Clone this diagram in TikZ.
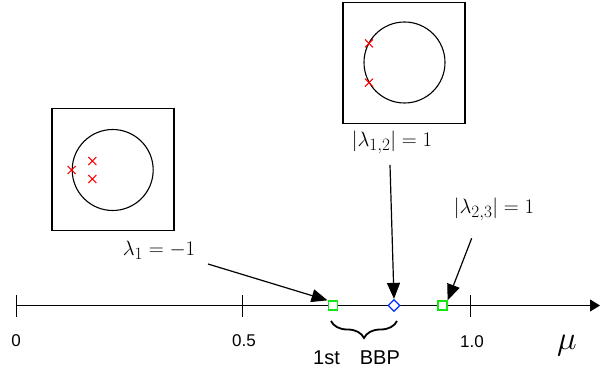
\documentclass[tikz,border=0pt]{standalone}
\usepackage{fontspec}
\setsansfont{Liberation Sans}
\usetikzlibrary{arrows.meta,decorations.pathreplacing,shapes.geometric}
\definecolor{mkgreen}{RGB}{20,230,20}
\definecolor{mkblue}{RGB}{0,50,255}
\begin{document}
\begin{tikzpicture}[x=1pt,y=-1pt,
  numlbl/.style={font=\sffamily\fontsize{17}{20}\selectfont, inner sep=0pt},
  mathlbl/.style={font=\fontsize{22.7}{27}\selectfont, inner sep=0pt},
  inset/.style={draw, line width=1.1pt, minimum width=122pt, minimum height=122pt, inner sep=0pt},
  ucircle/.style={circle, draw, line width=1.1pt, minimum size=81pt, inner sep=0pt},
  cross/.style={draw=red, line width=1pt},
  gsq/.style={draw=mkgreen, fill=white, line width=1.3pt, minimum size=9pt, inner sep=0pt},
  bdia/.style={diamond, draw=mkblue, fill=white, line width=1.2pt, minimum size=12pt, inner sep=0pt},
  pointer/.style={line width=1.2pt, -{Triangle[length=16pt,width=13pt]}},
  tick/.style={line width=1pt}
]
\useasboundingbox (0,0) rectangle (600,374);

% axis
\coordinate (a0) at (16,305.5);
\coordinate (aend) at (600,305.5);
\draw[line width=1pt, -{Triangle[length=10pt,width=12pt]}] (a0) -- (aend);
\draw[tick] (16,295) -- (16,317);
\draw[tick] (242,295) -- (242,317);
\draw[tick] (470,295) -- (470,317);

\node[numlbl] (l0) at (16,341) {0};
\node[numlbl] (l05) at (244,341) {0.5};
\node[numlbl] (l10) at (472,342) {1.0};
\node[mathlbl] (mu) at (567,346) {\scalebox{1.6}{$\mu$}};
\node[font=\sffamily\fontsize{20}{24}\selectfont, inner sep=0pt] (bbp) at (356.5,358) {1st\hspace{20pt}BBP};

% brace
\coordinate (b1) at (331,321);
\coordinate (b2) at (397,321);
\draw[line width=1.8pt, decorate, decoration={brace, mirror, amplitude=17pt}] (b1) -- (b2);

% markers
\node[gsq] (s1) at (332.7,305.5) {};
\node[bdia] (d1) at (394,305.5) {};
\node[gsq] (s2) at (442.5,305.5) {};

% inset 1
\node[inset] (box1) at (113,169.5) {};
\node[ucircle] (c1) at (112.7,170) {};
\foreach \cx/\cy in {71.7/170, 92.3/161, 92.3/179}
  \draw[cross] (\cx-4,\cy-4) -- (\cx+4,\cy+4) (\cx-4,\cy+4) -- (\cx+4,\cy-4);

% inset 2
\node[inset, minimum height=121pt] (box2) at (404,63) {};
\node[ucircle] (c2) at (404.5,62.5) {};
\foreach \cx/\cy in {369/43.3, 369/82.7}
  \draw[cross] (\cx-4,\cy-4) -- (\cx+4,\cy+4) (\cx-4,\cy+4) -- (\cx+4,\cy-4);

% labels
\node[mathlbl] (lam1) at (159,250) {$\lambda_1=-1$};
\node[mathlbl] (lam12) at (392,142) {$|\lambda_{1,2}|=1$};
\node[mathlbl] (lam23) at (494,209) {$|\lambda_{2,3}|=1$};

% pointers
\coordinate (p1) at (208,264);
\coordinate (p2) at (390,165);
\coordinate (p3) at (471.7,238.3);
\draw[pointer] (p1) -- (s1.north west);
\draw[pointer] (p2) -- (d1.north);
\draw[pointer] (p3) -- (s2.north east);
\end{tikzpicture}
\end{document}
